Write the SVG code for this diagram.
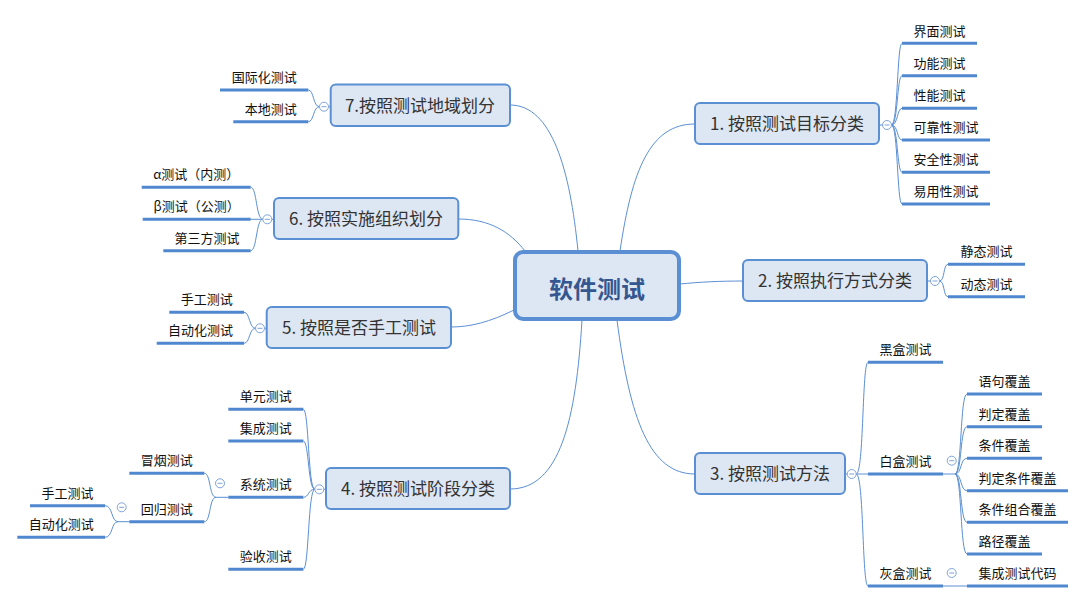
<svg xmlns="http://www.w3.org/2000/svg" width="1086" height="603" viewBox="0 0 1086 603">
<style>
.bg{fill:#ffffff}
.c{fill:none;stroke:#5b8fd4;stroke-width:1}
.u{stroke:#5088cf;stroke-width:3;fill:none}
.main rect{fill:#dde6f3;stroke:#5b8fd4;stroke-width:2}
.main text{font-family:"Noto Sans CJK SC","Microsoft YaHei",sans-serif;font-size:17px;fill:#333;text-anchor:middle}
.leaf text{font-family:"Noto Sans CJK SC","Microsoft YaHei",sans-serif;font-size:13px;fill:#111;text-anchor:middle}
.tog circle{fill:#fff;stroke:#7fa3d8;stroke-width:1}
.tog line{stroke:#7fa3d8;stroke-width:1}
</style>
<rect class="bg" x="0" y="0" width="1086" height="603"/>
<g id="connectors">
<path class="c" d="M620,251 C632,170 650,124 695,124"/>
<path class="c" d="M680,284 C700,282 720,281 743,281"/>
<path class="c" d="M617,320 C630,420 650,474 695,474"/>
<path class="c" d="M582,320 C576,420 560,489 510,489"/>
<path class="c" d="M514,310 C490,322 470,327 451,327"/>
<path class="c" d="M525,251 C510,232 490,219 458,219"/>
<path class="c" d="M578,251 C570,170 552,105 510,105"/>
<line class="c" x1="879" y1="125" x2="882.5" y2="125"/>
<line class="c" x1="927" y1="281" x2="930.5" y2="281"/>
<line class="c" x1="845" y1="474" x2="847.2" y2="474"/>
<line class="c" x1="326" y1="489.3" x2="323.8" y2="489.3"/>
<line class="c" x1="266.7" y1="328.3" x2="264.5" y2="328.3"/>
<line class="c" x1="274" y1="219.3" x2="271.8" y2="219.3"/>
<line class="c" x1="330.7" y1="106.7" x2="328.5" y2="106.7"/>
<path class="c" d="M891.5,125 C898,125 897,43.3 902,43.3 M891.5,125 C898,125 897,75.7 902,75.7 M891.5,125 C898,125 897,108.3 902,108.3 M891.5,125 C898,125 897,140 902,140 M891.5,125 C898,125 897,172.3 902,172.3 M891.5,125 C898,125 897,204 902,204"/>
<path class="c" d="M939.5,281 C945,281 943,264.3 948,264.3 M939.5,281 C945,281 943,296.7 948,296.7"/>
<path class="c" d="M856.2,474 C864,474 862,362.3 868,362.3 M856.2,474 L868,474 M856.2,474 C864,474 862,586 868,586"/>
<path class="c" d="M943,474 L955,474 C962,474 960,394 967,394 M955,474 C962,474 960,426.7 967,426.7 M955,474 C962,474 960,458.3 967,458.3 M955,474 C962,474 960,490.7 967,490.7 M955,474 C962,474 960,522.3 967,522.3 M955,474 C962,474 960,554 967,554"/>
<path class="c" d="M943,586 L967,586"/>
<path class="c" d="M314.8,489.3 C308,489.3 309,409.3 303.3,409.3 M314.8,489.3 C308,489.3 309,441 303.3,441 M314.8,489.3 C308,489.3 309,497.3 303.3,497.3 M314.8,489.3 C308,489.3 309,569.3 303.3,569.3"/>
<path class="c" d="M228.3,497.3 L216,497.3 C209,497.3 211,473.3 204.3,473.3 M216,497.3 C209,497.3 211,521.7 204.3,521.7"/>
<path class="c" d="M129.3,521.7 L118,521.7 C111,521.7 113,505.7 105,505.7 M118,521.7 C111,521.7 113,537.3 105,537.3"/>
<path class="c" d="M255.5,328.3 C249,328.3 250,312.3 244,312.3 M255.5,328.3 C249,328.3 250,343.3 244,343.3"/>
<path class="c" d="M262.8,219.3 C256,219.3 257,187.3 250.7,187.3 M262.8,219.3 L250.7,219.3 M262.8,219.3 C256,219.3 257,250.7 250.7,250.7"/>
<path class="c" d="M319.5,106.7 C313,106.7 314,90 308.3,90 M319.5,106.7 C313,106.7 314,121.7 308.3,121.7"/>
</g>
<g id="root">
<rect x="515" y="252" width="164" height="67" rx="8" fill="#dde6f3" stroke="#5b8fd4" stroke-width="4"/>
<text x="597" y="298" font-family="'Noto Sans CJK SC','Microsoft YaHei',sans-serif" font-size="24" font-weight="bold" fill="#35578f" text-anchor="middle">软件测试</text>
</g>
<g id="n1" class="main"><rect x="695" y="103" width="184" height="41" rx="5"/><text x="787" y="130">1. 按照测试目标分类</text></g>
<g id="n2" class="main"><rect x="743" y="260" width="184" height="41" rx="5"/><text x="835" y="287">2. 按照执行方式分类</text></g>
<g id="n3" class="main"><rect x="695" y="453" width="150" height="41" rx="5"/><text x="770" y="480">3. 按照测试方法</text></g>
<g id="n4" class="main"><rect x="326" y="468" width="184" height="41" rx="5"/><text x="418" y="495">4. 按照测试阶段分类</text></g>
<g id="n5" class="main"><rect x="266.7" y="307" width="184.3" height="41" rx="5"/><text x="359" y="334">5. 按照是否手工测试</text></g>
<g id="n6" class="main"><rect x="274" y="198" width="184.3" height="41" rx="5"/><text x="366" y="225">6. 按照实施组织划分</text></g>
<g id="n7" class="main"><rect x="330.7" y="84.5" width="179.3" height="41.5" rx="5"/><text x="420" y="112">7.按照测试地域划分</text></g>
<g id="toggles" class="tog">
<g><circle cx="887" cy="125" r="4.5"/><line x1="884.5" y1="125" x2="889.5" y2="125"/></g>
<g><circle cx="935" cy="281" r="4.5"/><line x1="932.5" y1="281" x2="937.5" y2="281"/></g>
<g><circle cx="851.7" cy="474" r="4.5"/><line x1="849.2" y1="474" x2="854.2" y2="474"/></g>
<g><circle cx="951.7" cy="460.7" r="4.5"/><line x1="949.2" y1="460.7" x2="954.2" y2="460.7"/></g>
<g><circle cx="951.7" cy="573" r="4.5"/><line x1="949.2" y1="573" x2="954.2" y2="573"/></g>
<g><circle cx="319.3" cy="489.3" r="4.5"/><line x1="316.8" y1="489.3" x2="321.8" y2="489.3"/></g>
<g><circle cx="220" cy="483.3" r="4.5"/><line x1="217.5" y1="483.3" x2="222.5" y2="483.3"/></g>
<g><circle cx="121.7" cy="507.3" r="4.5"/><line x1="119.2" y1="507.3" x2="124.2" y2="507.3"/></g>
<g><circle cx="260" cy="328.3" r="4.5"/><line x1="257.5" y1="328.3" x2="262.5" y2="328.3"/></g>
<g><circle cx="267.3" cy="219.3" r="4.5"/><line x1="264.8" y1="219.3" x2="269.8" y2="219.3"/></g>
<g><circle cx="324" cy="106.7" r="4.5"/><line x1="321.5" y1="106.7" x2="326.5" y2="106.7"/></g>
</g>
<g id="n1-children" class="leaf">
<g id="l1a"><line class="u" x1="902" y1="43.3" x2="977" y2="43.3"/><text x="939.5" y="35.5">界面测试</text></g>
<g id="l1b"><line class="u" x1="902" y1="75.7" x2="977" y2="75.7"/><text x="939.5" y="67.7">功能测试</text></g>
<g id="l1c"><line class="u" x1="902" y1="108.3" x2="977" y2="108.3"/><text x="939.5" y="100.3">性能测试</text></g>
<g id="l1d"><line class="u" x1="902" y1="140" x2="990" y2="140"/><text x="946" y="132">可靠性测试</text></g>
<g id="l1e"><line class="u" x1="902" y1="172.3" x2="990" y2="172.3"/><text x="946" y="164.3">安全性测试</text></g>
<g id="l1f"><line class="u" x1="902" y1="204" x2="990" y2="204"/><text x="946" y="196">易用性测试</text></g>
</g>
<g id="n2-children" class="leaf">
<g id="l2a"><line class="u" x1="948" y1="264.3" x2="1025" y2="264.3"/><text x="986.5" y="256.3">静态测试</text></g>
<g id="l2b"><line class="u" x1="948" y1="296.7" x2="1025" y2="296.7"/><text x="986.5" y="288.7">动态测试</text></g>
</g>
<g id="n3-children" class="leaf">
<g id="l3a"><line class="u" x1="868" y1="362.3" x2="943" y2="362.3"/><text x="905.5" y="354.3">黑盒测试</text></g>
<g id="l3b"><line class="u" x1="868" y1="474" x2="943" y2="474"/><text x="905.5" y="466">白盒测试</text></g>
<g id="l3c"><line class="u" x1="868" y1="586" x2="943" y2="586"/><text x="905.5" y="578">灰盒测试</text></g>
<g id="l3b1"><line class="u" x1="967" y1="394" x2="1042" y2="394"/><text x="1004.5" y="386">语句覆盖</text></g>
<g id="l3b2"><line class="u" x1="967" y1="426.7" x2="1042" y2="426.7"/><text x="1004.5" y="418.7">判定覆盖</text></g>
<g id="l3b3"><line class="u" x1="967" y1="458.3" x2="1042" y2="458.3"/><text x="1004.5" y="450.3">条件覆盖</text></g>
<g id="l3b4"><line class="u" x1="967" y1="490.7" x2="1068" y2="490.7"/><text x="1017.5" y="482.7">判定条件覆盖</text></g>
<g id="l3b5"><line class="u" x1="967" y1="522.3" x2="1068" y2="522.3"/><text x="1017.5" y="514.3">条件组合覆盖</text></g>
<g id="l3b6"><line class="u" x1="967" y1="554" x2="1042" y2="554"/><text x="1004.5" y="546">路径覆盖</text></g>
<g id="l3c1"><line class="u" x1="967" y1="586" x2="1068" y2="586"/><text x="1017.5" y="578">集成测试代码</text></g>
</g>
<g id="n4-children" class="leaf">
<g id="l4a"><line class="u" x1="228.3" y1="409.3" x2="303.3" y2="409.3"/><text x="265.8" y="401.3">单元测试</text></g>
<g id="l4b"><line class="u" x1="228.3" y1="441" x2="303.3" y2="441"/><text x="265.8" y="433">集成测试</text></g>
<g id="l4c"><line class="u" x1="228.3" y1="497.3" x2="303.3" y2="497.3"/><text x="265.8" y="489.3">系统测试</text></g>
<g id="l4d"><line class="u" x1="228.3" y1="569.3" x2="303.3" y2="569.3"/><text x="265.8" y="561.3">验收测试</text></g>
<g id="l4c1"><line class="u" x1="129.3" y1="473.3" x2="204.3" y2="473.3"/><text x="166.8" y="465.3">冒烟测试</text></g>
<g id="l4c2"><line class="u" x1="129.3" y1="521.7" x2="204.3" y2="521.7"/><text x="166.8" y="513.7">回归测试</text></g>
<g id="l4c2a"><line class="u" x1="30" y1="505.7" x2="105" y2="505.7"/><text x="67.5" y="497.7">手工测试</text></g>
<g id="l4c2b"><line class="u" x1="17.3" y1="537.3" x2="105" y2="537.3"/><text x="61.2" y="529.3">自动化测试</text></g>
</g>
<g id="n5-children" class="leaf">
<g id="l5a"><line class="u" x1="169.3" y1="312.3" x2="244" y2="312.3"/><text x="206.7" y="304.3">手工测试</text></g>
<g id="l5b"><line class="u" x1="156.7" y1="343.3" x2="244" y2="343.3"/><text x="200.4" y="335.3">自动化测试</text></g>
</g>
<g id="n6-children" class="leaf">
<g id="l6a"><line class="u" x1="141.7" y1="187.3" x2="250.7" y2="187.3"/><text x="196.2" y="179.3">α测试（内测）</text></g>
<g id="l6b"><line class="u" x1="142.7" y1="219.3" x2="250.7" y2="219.3"/><text x="196.7" y="211.3">β测试（公测）</text></g>
<g id="l6c"><line class="u" x1="163.3" y1="250.7" x2="250.7" y2="250.7"/><text x="207" y="242.7">第三方测试</text></g>
</g>
<g id="n7-children" class="leaf">
<g id="l7a"><line class="u" x1="220" y1="90" x2="308.3" y2="90"/><text x="264.2" y="82">国际化测试</text></g>
<g id="l7b"><line class="u" x1="233.3" y1="121.7" x2="308.3" y2="121.7"/><text x="270.8" y="113.7">本地测试</text></g>
</g>
</svg>
